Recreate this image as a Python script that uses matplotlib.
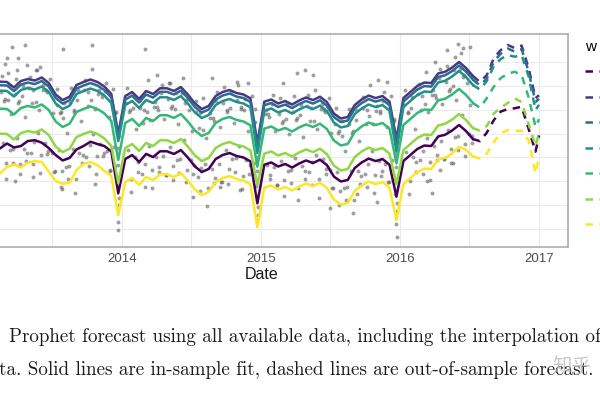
import matplotlib
matplotlib.use("Agg")
import matplotlib.pyplot as plt
from matplotlib.lines import Line2D

plt.rcParams['font.family'] = ['Liberation Sans', 'DejaVu Sans']

# in-sample fit, one value every 0.05 year
fit_date = [2013.125, 2013.175, 2013.225, 2013.275, 2013.325, 2013.375, 2013.425, 2013.475, 2013.525, 2013.575,
            2013.625, 2013.675, 2013.725, 2013.775, 2013.825, 2013.875, 2013.925, 2013.975, 2014.025, 2014.075,
            2014.125, 2014.175, 2014.225, 2014.275, 2014.325, 2014.375, 2014.425, 2014.475, 2014.525, 2014.575,
            2014.625, 2014.675, 2014.725, 2014.775, 2014.825, 2014.875, 2014.925, 2014.975, 2015.025, 2015.075,
            2015.125, 2015.175, 2015.225, 2015.275, 2015.325, 2015.375, 2015.425, 2015.475, 2015.525, 2015.575,
            2015.625, 2015.675, 2015.725, 2015.775, 2015.825, 2015.875, 2015.925, 2015.975, 2016.025, 2016.075,
            2016.125, 2016.175, 2016.225, 2016.275, 2016.325, 2016.375, 2016.425, 2016.475, 2016.525]

fit_sun = [109.5, 114.5, 110.4, 111.9, 117.2, 118.0, 115.4, 109.8, 102.5, 96.8,
           99.4, 108.3, 111.9, 116.4, 114.0, 111.9, 106.2, 62.4, 98.3, 102.5,
           95.2, 103.6, 100.4, 106.4, 106.4, 103.6, 107.7, 99.9, 90.7, 84.7,
           87.9, 98.3, 102.5, 104.6, 101.5, 99.9, 95.9, 52.0, 92.4, 94.7,
           90.5, 93.1, 89.4, 93.6, 96.8, 94.1, 97.6, 92.0, 80.0, 74.8,
           76.4, 88.9, 94.7, 98.8, 96.2, 98.3, 92.4, 58.9, 96.2, 102.5,
           108.8, 112.4, 111.9, 121.9, 123.7, 128.1, 133.9, 127.6, 119.2]
fit_mon = [179.2, 178.9, 173.1, 179.9, 182.0, 180.4, 183.6, 177.8, 165.8, 160.0,
           163.5, 175.7, 178.9, 181.5, 178.9, 174.2, 166.3, 124.5, 164.2, 168.4,
           161.1, 169.5, 166.3, 172.3, 172.3, 169.5, 173.6, 165.8, 156.6, 150.6,
           153.8, 164.2, 168.4, 170.5, 167.4, 165.8, 161.8, 115.0, 158.3, 160.6,
           156.4, 159.0, 155.3, 159.5, 162.7, 160.0, 163.5, 157.9, 145.9, 140.7,
           142.3, 154.8, 160.6, 164.7, 162.1, 164.2, 158.3, 119.0, 162.1, 168.4,
           174.7, 178.3, 177.8, 187.8, 189.6, 194.0, 199.8, 193.5, 185.1]
fit_tue = [175.5, 175.2, 169.4, 176.2, 178.3, 176.7, 179.9, 174.1, 162.1, 156.3,
           159.8, 172.0, 175.2, 177.8, 175.2, 170.5, 162.6, 121.0, 160.5, 164.7,
           157.4, 165.8, 162.6, 168.6, 168.6, 165.8, 169.9, 162.1, 152.9, 146.9,
           150.1, 160.5, 164.7, 166.8, 163.7, 162.1, 158.1, 111.5, 154.6, 156.9,
           152.7, 155.3, 151.6, 155.8, 159.0, 156.3, 159.8, 154.2, 142.2, 137.0,
           138.6, 151.1, 156.9, 161.0, 158.4, 160.5, 154.6, 115.5, 158.4, 164.7,
           171.0, 174.6, 174.1, 184.1, 185.9, 190.3, 196.1, 189.8, 181.4]
fit_wed = [169.8, 169.5, 163.7, 170.5, 172.6, 171.0, 174.2, 168.4, 156.4, 150.6,
           154.1, 166.3, 169.5, 172.1, 169.5, 164.8, 156.9, 117.0, 154.8, 159.0,
           151.7, 160.1, 156.9, 162.9, 162.9, 160.1, 164.2, 156.4, 147.2, 141.2,
           144.4, 154.8, 159.0, 161.1, 158.0, 156.4, 152.4, 104.5, 148.9, 151.2,
           147.0, 149.6, 145.9, 150.1, 153.3, 150.6, 154.1, 148.5, 136.5, 131.3,
           132.9, 145.4, 151.2, 155.3, 152.7, 154.8, 148.9, 106.0, 152.7, 159.0,
           165.3, 168.9, 168.4, 178.4, 180.2, 184.6, 190.4, 184.1, 175.7]
fit_thu = [151.0, 150.7, 144.9, 151.7, 153.8, 152.2, 155.4, 149.6, 137.6, 131.8,
           135.3, 147.5, 150.7, 153.3, 150.7, 146.0, 138.1, 97.3, 136.0, 140.2,
           132.9, 141.3, 138.1, 144.1, 144.1, 141.3, 145.4, 137.6, 128.4, 122.4,
           125.6, 136.0, 140.2, 142.3, 139.2, 137.6, 133.6, 90.3, 130.1, 132.4,
           128.2, 130.8, 127.1, 131.3, 134.5, 131.8, 135.3, 129.7, 117.7, 112.5,
           114.1, 126.6, 132.4, 136.5, 133.9, 136.0, 130.1, 93.8, 133.9, 140.2,
           146.5, 150.1, 149.6, 159.6, 161.4, 165.8, 171.6, 165.3, 156.9]
fit_fri = [124.8, 124.5, 118.7, 125.5, 127.6, 126.0, 129.2, 123.4, 111.4, 105.6,
           109.1, 121.3, 124.5, 127.1, 124.5, 119.8, 111.9, 72.9, 109.8, 114.0,
           106.7, 115.1, 111.9, 117.9, 117.9, 115.1, 119.2, 111.4, 102.2, 96.2,
           99.4, 109.8, 114.0, 116.1, 113.0, 111.4, 107.4, 71.1, 103.9, 106.2,
           102.0, 104.6, 100.9, 105.1, 108.3, 105.6, 109.1, 103.5, 91.5, 86.3,
           87.9, 100.4, 106.2, 110.3, 107.7, 109.8, 103.9, 72.0, 107.7, 114.0,
           120.3, 123.9, 123.4, 133.4, 135.2, 139.6, 145.4, 139.1, 130.7]
fit_sat = [83.4, 90.0, 92.6, 89.4, 94.5, 96.2, 95.2, 85.2, 75.3, 72.5,
           73.2, 86.8, 93.1, 95.2, 92.0, 85.8, 80.5, 39.7, 74.2, 78.4,
           71.1, 79.5, 76.3, 82.3, 82.3, 79.5, 83.6, 75.8, 66.6, 60.6,
           63.8, 74.2, 78.4, 80.5, 77.4, 75.8, 71.8, 26.9, 68.3, 70.6,
           66.4, 69.0, 65.3, 69.5, 72.7, 70.0, 73.5, 67.9, 55.9, 50.7,
           52.3, 64.8, 70.6, 74.7, 72.1, 74.2, 68.3, 34.5, 72.1, 78.4,
           84.7, 88.3, 87.8, 97.8, 99.6, 104.0, 111.2, 108.0, 101.0]

# out-of-sample forecast
fc_date = [2016.525, 2016.575, 2016.625, 2016.675, 2016.725, 2016.775, 2016.825, 2016.875, 2016.925, 2016.975, 2017.0]
fc_sun = [119.2, 117.0, 126.0, 139.0, 148.0, 150.5, 151.4, 153.0, 130.0, 106.0, 123.0]
fc_mon = [185.1, 178.9, 186.2, 204.0, 212.3, 217.6, 214.4, 217.0, 193.5, 162.0, 165.0]
fc_tue = [181.4, 175.2, 182.5, 200.3, 208.6, 213.9, 210.7, 213.3, 189.8, 158.0, 161.3]
fc_wed = [175.7, 171.0, 180.0, 195.5, 203.0, 207.1, 205.3, 207.1, 185.0, 149.6, 155.0]
fc_thu = [156.9, 152.0, 162.0, 174.0, 183.0, 187.5, 189.6, 186.2, 163.0, 132.0, 140.0]
fc_fri = [130.7, 128.0, 133.0, 146.0, 152.0, 157.0, 161.7, 158.0, 135.0, 112.0, 126.0]
fc_sat = [101.0, 99.0, 104.0, 116.0, 125.2, 128.7, 127.5, 128.0, 118.0, 83.4, 100.7]

# observed daily values
obs_date = [2013.137, 2013.155, 2013.146, 2013.165, 2013.160, 2013.187, 2013.205, 2013.196, 2013.215,
            2013.237, 2013.255, 2013.246, 2013.265, 2013.260, 2013.287, 2013.305, 2013.296, 2013.315,
            2013.337, 2013.355, 2013.346, 2013.365, 2013.360, 2013.387, 2013.405, 2013.396, 2013.415,
            2013.437, 2013.455, 2013.446, 2013.465, 2013.460, 2013.487, 2013.505, 2013.496, 2013.515,
            2013.537, 2013.555, 2013.546, 2013.565, 2013.560, 2013.587, 2013.605, 2013.596, 2013.615,
            2013.637, 2013.655, 2013.646, 2013.665, 2013.660, 2013.687, 2013.705, 2013.696, 2013.715,
            2013.737, 2013.755, 2013.746, 2013.765, 2013.760, 2013.787, 2013.805, 2013.796, 2013.815,
            2013.837, 2013.855, 2013.846, 2013.865, 2013.860, 2013.887, 2013.905, 2013.896, 2013.915,
            2013.937, 2013.955, 2013.946, 2013.965, 2013.960, 2013.978, 2013.972, 2013.980, 2013.975,
            2014.037, 2014.055, 2014.046, 2014.065, 2014.060, 2014.087, 2014.105, 2014.096, 2014.115,
            2014.137, 2014.155, 2014.146, 2014.165, 2014.160, 2014.187, 2014.205, 2014.196, 2014.215,
            2014.237, 2014.255, 2014.246, 2014.265, 2014.260, 2014.287, 2014.305, 2014.296, 2014.315,
            2014.337, 2014.355, 2014.346, 2014.365, 2014.360, 2014.387, 2014.405, 2014.396, 2014.415,
            2014.437, 2014.455, 2014.446, 2014.465, 2014.460, 2014.487, 2014.505, 2014.496, 2014.515,
            2014.537, 2014.555, 2014.546, 2014.565, 2014.560, 2014.587, 2014.605, 2014.596, 2014.615,
            2014.637, 2014.655, 2014.646, 2014.665, 2014.660, 2014.687, 2014.705, 2014.696, 2014.715,
            2014.737, 2014.755, 2014.746, 2014.765, 2014.760, 2014.787, 2014.805, 2014.796, 2014.815,
            2014.837, 2014.855, 2014.846, 2014.865, 2014.860, 2014.887, 2014.905, 2014.896, 2014.915,
            2014.937, 2014.955, 2014.946, 2014.965, 2014.960, 2014.978, 2014.972, 2014.980, 2014.970,
            2015.037, 2015.055, 2015.046, 2015.065, 2015.060, 2015.087, 2015.105, 2015.096, 2015.115,
            2015.137, 2015.155, 2015.146, 2015.165, 2015.160, 2015.187, 2015.205, 2015.196, 2015.215,
            2015.237, 2015.255, 2015.246, 2015.265, 2015.260, 2015.287, 2015.305, 2015.296, 2015.315,
            2015.337, 2015.355, 2015.346, 2015.365, 2015.360, 2015.387, 2015.405, 2015.396, 2015.415,
            2015.437, 2015.455, 2015.446, 2015.465, 2015.460, 2015.487, 2015.505, 2015.496, 2015.515,
            2015.537, 2015.555, 2015.546, 2015.565, 2015.560, 2015.587, 2015.605, 2015.596, 2015.615,
            2015.637, 2015.655, 2015.646, 2015.665, 2015.660, 2015.687, 2015.705, 2015.696, 2015.715,
            2015.737, 2015.755, 2015.746, 2015.765, 2015.760, 2015.787, 2015.805, 2015.796, 2015.815,
            2015.837, 2015.855, 2015.846, 2015.865, 2015.860, 2015.887, 2015.905, 2015.896, 2015.915,
            2015.937, 2015.955, 2015.946, 2015.965, 2015.960, 2015.978, 2015.972, 2015.980, 2015.978, 2015.970,
            2016.037, 2016.055, 2016.046, 2016.065, 2016.060, 2016.087, 2016.105, 2016.096, 2016.115,
            2016.137, 2016.155, 2016.146, 2016.165, 2016.160, 2016.187, 2016.205, 2016.196, 2016.215,
            2016.237, 2016.255, 2016.246, 2016.265, 2016.260, 2016.287, 2016.305, 2016.296, 2016.315,
            2016.337, 2016.355, 2016.346, 2016.365, 2016.360, 2016.387, 2016.405, 2016.396, 2016.415,
            2016.437, 2016.455, 2016.446, 2016.465, 2016.460, 2016.487, 2016.505, 2016.496, 2016.515,
            # days between the top lines and the middle lines
            2013.131, 2013.181, 2013.231, 2013.281, 2013.331, 2013.381, 2013.431, 2013.481, 2013.531,
            2013.581, 2013.631, 2013.681, 2013.731, 2013.781, 2013.831, 2013.881, 2013.931, 2013.970,
            2014.031, 2014.081, 2014.131, 2014.181, 2014.231, 2014.281, 2014.331, 2014.381, 2014.431, 2014.481,
            2014.531, 2014.581, 2014.631, 2014.681, 2014.731, 2014.781, 2014.831, 2014.881, 2014.931, 2014.970,
            2015.031, 2015.081, 2015.131, 2015.181, 2015.231, 2015.281, 2015.331, 2015.381, 2015.431, 2015.481,
            2015.531, 2015.581, 2015.631, 2015.681, 2015.731, 2015.781, 2015.831, 2015.881, 2015.931, 2015.970,
            2016.031, 2016.081, 2016.131, 2016.181, 2016.231, 2016.281, 2016.331, 2016.381, 2016.431, 2016.481,
            # days between the lowest lines
            2013.169, 2013.219, 2013.269, 2013.319, 2013.369, 2013.419, 2013.469, 2013.519, 2013.569,
            2013.619, 2013.669, 2013.719, 2013.769, 2013.819, 2013.869, 2013.919, 2013.950, 2013.982,
            2014.069, 2014.119, 2014.169, 2014.219, 2014.269, 2014.319, 2014.369, 2014.419, 2014.469, 2014.519,
            2014.569, 2014.619, 2014.669, 2014.719, 2014.769, 2014.819, 2014.869, 2014.919, 2014.950, 2014.982,
            2015.069, 2015.119, 2015.169, 2015.219, 2015.269, 2015.319, 2015.369, 2015.419, 2015.469, 2015.519,
            2015.569, 2015.619, 2015.669, 2015.719, 2015.769, 2015.819, 2015.869, 2015.919, 2015.950, 2015.982,
            2016.069, 2016.119, 2016.169, 2016.219, 2016.269, 2016.319, 2016.369, 2016.419, 2016.469, 2016.519,
            # stray days
            2013.209, 2013.305, 2013.580, 2013.784, 2014.168, 2013.173, 2013.257, 2013.161, 2013.185,
            2013.245, 2013.317, 2013.389, 2013.413, 2015.162, 2015.258, 2015.318, 2015.377, 2016.337,
            2016.396, 2016.421, 2016.456, 2016.504, 2016.254, 2016.231, 2015.498, 2015.833, 2014.252,
            2014.347, 2014.647, 2014.827, 2014.910, 2015.845, 2015.905, 2013.233, 2013.364, 2013.569,
            2013.808, 2014.515, 2014.707, 2014.850, 2015.690, 2016.193, 2016.288, 2016.384, 2013.976]
obs_value = [185, 159, 115, 77, 161, 176, 145, 108, 94,
             182, 157, 120, 83, 159, 175, 142, 109, 96,
             184, 157, 105, 93, 171, 191, 150, 126, 84,
             176, 170, 115, 104, 168, 182, 146, 105, 85,
             172, 146, 108, 69, 148, 157, 126, 90, 77,
             173, 147, 109, 63, 150, 171, 138, 105, 94,
             181, 154, 100, 91, 168, 193, 151, 124, 83,
             171, 166, 114, 101, 163, 178, 142, 107, 86,
             172, 146, 111, 75, 148, 122, 92, 58, 32,
             173, 148, 108, 64, 150, 163, 130, 100, 85,
             163, 136, 83, 69, 150, 181, 139, 112, 68,
             158, 153, 100, 85, 150, 176, 140, 101, 82,
             178, 152, 111, 76, 154, 167, 135, 97, 84,
             183, 157, 118, 74, 160, 161, 128, 97, 83,
             159, 131, 79, 65, 146, 162, 120, 93, 49,
             146, 141, 88, 73, 138, 168, 132, 93, 74,
             174, 148, 108, 72, 150, 168, 136, 98, 85,
             176, 151, 112, 67, 153, 161, 128, 97, 83,
             164, 137, 84, 70, 151, 112, 86, 48, 35,
             150, 145, 92, 77, 142, 165, 128, 90, 71,
             162, 136, 96, 60, 138, 156, 125, 86, 73,
             164, 139, 99, 55, 141, 155, 121, 91, 77,
             165, 138, 85, 71, 152, 171, 130, 102, 58,
             156, 150, 98, 83, 148, 162, 126, 87, 68,
             152, 126, 85, 50, 128, 138, 107, 68, 55,
             151, 126, 86, 42, 128, 150, 117, 86, 72,
             163, 135, 83, 69, 150, 176, 135, 107, 63,
             154, 149, 96, 81, 146, 168, 132, 93, 74,
             164, 138, 97, 62, 140, 116, 90, 52, 17, 30,
             171, 146, 106, 62, 148, 163, 130, 100, 85,
             177, 150, 97, 83, 164, 189, 148, 120, 76,
             170, 165, 112, 97, 162, 192, 156, 117, 98,
             196, 169, 129, 94, 172, 191, 160, 121, 108,
             209, 184, 144, 101, 186, 189, 155, 125, 115,
             # days between the top lines and the middle lines
             168, 160, 166, 164, 173, 158, 171, 173, 155,
             141, 157, 160, 170, 160, 166, 169, 155, 110,
             157, 152, 152, 148, 153, 167, 161, 151, 167, 150,
             148, 129, 141, 159, 157, 152, 160, 150, 153, 100,
             145, 156, 145, 140, 148, 144, 154, 138, 151, 153,
             135, 122, 135, 139, 152, 143, 149, 159, 147, 104,
             155, 152, 166, 156, 165, 183, 179, 175, 193, 178,
             # days between the lowest lines
             94, 109, 93, 105, 116, 102, 107, 86, 86,
             91, 77, 102, 113, 101, 105, 87, 91, 50,
             77, 95, 93, 87, 90, 82, 91, 98, 87, 92,
             89, 68, 78, 74, 88, 99, 81, 92, 94, 40,
             82, 71, 76, 87, 68, 86, 95, 77, 88, 68,
             65, 69, 55, 81, 93, 82, 86, 74, 77, 44,
             75, 95, 107, 95, 102, 98, 109, 122, 114, 122,
             # stray days
             216, 218, 213, 218, 213, 204, 204, 198, 188,
             191, 197, 191, 195, 178, 188, 191, 186, 212,
             205, 219, 214, 216, 200, 63, 47, 53, 186,
             178, 183, 179, 178, 181, 179, 75, 80, 67,
             72, 59, 69, 66, 62, 75, 87, 94, 24]

weekdays = ["Sunday", "Monday", "Tuesday", "Wednesday", "Thursday", "Friday", "Saturday"]
colors = ["#440154", "#443A83", "#31688E", "#21908C", "#35B779", "#8FD744", "#FDE725"]
fits = [fit_sun, fit_mon, fit_tue, fit_wed, fit_thu, fit_fri, fit_sat]
forecasts = [fc_sun, fc_mon, fc_tue, fc_wed, fc_thu, fc_fri, fc_sat]

fig = plt.figure(figsize=(6, 4), dpi=100)
# panel runs off the left edge of the picture, as in the cropped original
ax = fig.add_axes([-0.0755, 0.3835, 1.023, 0.532])

ax.scatter(obs_date, obs_value, s=8, color="#5F5F5F", alpha=0.6, linewidths=0, zorder=2)
for vals, fc, c in zip(fits, forecasts, colors):
    ax.plot(fit_date, vals, color=c, lw=1.8, zorder=3)
    ax.plot(fc_date, fc, color=c, lw=1.8, dashes=(3.0, 2.6), zorder=3)

ax.set_xlim(2012.799, 2017.212)
ax.set_ylim(6.7, 229.3)
ax.set_xticks([2013, 2014, 2015, 2016, 2017])
ax.set_xticklabels(["2013", "2014", "2015", "2016", "2017"])
ax.set_xticks([2013.5, 2014.5, 2015.5, 2016.5], minor=True)
ax.set_yticks([25, 50, 75, 100, 125, 150, 175, 200])
ax.tick_params(axis="y", which="both", length=0, labelleft=False)
ax.tick_params(axis="x", which="both", length=0, pad=4.7, labelsize=9.5, labelcolor="#4D4D4D")
ax.grid(True, which="both", color="#EBEBEB", lw=0.8)
ax.set_axisbelow(True)
for s in ax.spines.values():
    s.set_color("#A6A6A6")
    s.set_linewidth(1.1)
ax.set_xlabel("Date", fontsize=11.5, color="#1A1A1A", labelpad=1)

handles = [Line2D([0], [0], color=c, lw=1.8, dashes=(3.0, 2.6)) for c in colors]
fig.legend(handles, weekdays, title="w", loc="upper left", bbox_to_anchor=(0.975, 0.901),
           frameon=False, fontsize=10, title_fontsize=11, handlelength=2.0, handletextpad=0.6,
           labelspacing=0.83, borderpad=0, borderaxespad=0, alignment="left")

fig.text(0.0155, 0.1458, "Prophet forecast using all available data, including the interpolation of",
         family="cmr10", fontsize=13.7, color="#1A1A1A", va="baseline")
fig.text(-0.002, 0.0625, "ta. Solid lines are in-sample fit, dashed lines are out-of-sample forecast.",
         family="cmr10", fontsize=13.7, color="#1A1A1A", va="baseline")
fig.text(0.953, 0.085, "知乎", family=["Noto Sans CJK SC", "DejaVu Sans"], fontsize=14,
         color="#BBBBBB", alpha=0.8, ha="center", va="center")

fig.savefig("out.png", dpi=100)
